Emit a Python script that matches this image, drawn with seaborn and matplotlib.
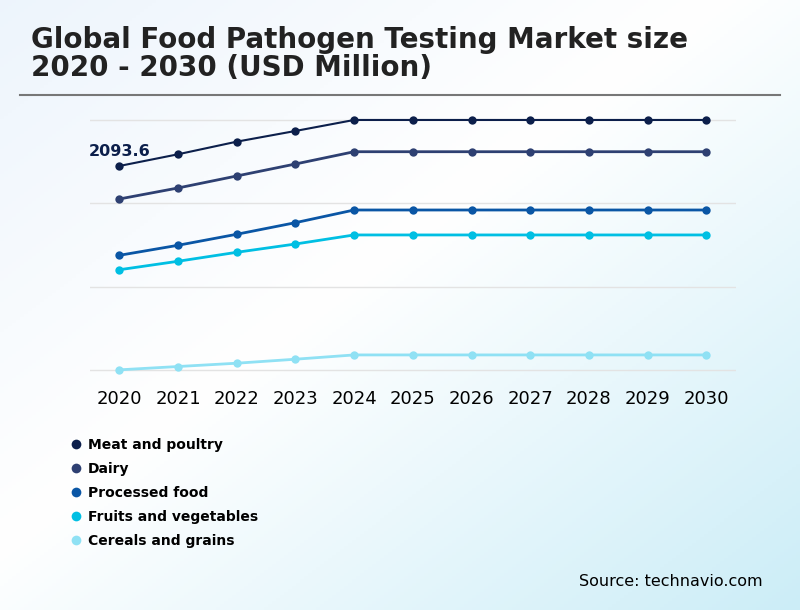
import numpy as np
import pandas as pd
import seaborn as sns
import matplotlib.pyplot as plt
from matplotlib.lines import Line2D

# datos (USD Million)
years = [2020, 2021, 2022, 2023, 2024, 2025, 2026, 2027, 2028, 2029, 2030]
segments = ['Meat and poultry', 'Dairy', 'Processed food', 'Fruits and vegetables', 'Cereals and grains']
meat = [2093.6, 2213.8, 2343.1, 2452.9, 2565.8, 2565.8, 2565.8, 2565.8, 2565.8, 2565.8, 2565.8]
dairy = [1755.0, 1868.0, 1991.0, 2114.0, 2240.0, 2240.0, 2240.0, 2240.0, 2240.0, 2240.0, 2240.0]
processed = [1177.0, 1280.0, 1393.0, 1512.0, 1642.0, 1642.0, 1642.0, 1642.0, 1642.0, 1642.0, 1642.0]
fruits = [1029.0, 1116.0, 1208.0, 1293.0, 1386.0, 1386.0, 1386.0, 1386.0, 1386.0, 1386.0, 1386.0]
cereals = [2.0, 36.0, 70.0, 111.0, 155.0, 155.0, 155.0, 155.0, 155.0, 155.0, 155.0]
grid_vals = [0, 855.3, 1710.5, 2565.8]

colors = ['#0c1f4b', '#2e4072', '#0a56a5', '#00bfe3', '#8fe1f4']

df = pd.DataFrame({
    'year': [str(y) for y in years] * 5,
    'segment': np.repeat(segments, len(years)),
    'value': meat + dairy + processed + fruits + cereals,
})

fig = plt.figure(figsize=(8, 6.1), dpi=100)

# fondo degradado
bg = fig.add_axes([0, 0, 1, 1], zorder=-10)
xx, yy = np.meshgrid(np.linspace(0, 1, 200), np.linspace(0, 1, 200))
t = np.clip((xx + yy) / 2, 0, 1)
c0 = np.array([0.93, 0.96, 0.99])
c1 = np.array([1.0, 1.0, 1.0])
c2 = np.array([0.80, 0.93, 0.97])
img = np.where(t[..., None] < 0.45,
               c0 + (c1 - c0) * (t[..., None] / 0.45),
               c1 + (c2 - c1) * ((t[..., None] - 0.45) / 0.55))
bg.imshow(img, extent=[0, 1, 0, 1], aspect='auto', origin='upper')
bg.axis('off')

ax = fig.add_axes([0.1125, 0.3854, 0.8071, 0.4266])
ax.set_facecolor('none')
sns.lineplot(data=df, x='year', y='value', hue='segment', palette=colors,
             marker='o', markersize=6, markeredgewidth=0, linewidth=2,
             ax=ax, legend=False, sort=False)
for ln in ax.lines[:1]:
    ln.set_linewidth(1.5)
for ln in ax.lines:
    ln.set_clip_on(False)

ax.set_xlim(-0.5, 10.5)
ax.set_ylim(-50, 2620)
ax.set_yticks(grid_vals)
ax.set_yticklabels([])
ax.grid(axis='y', color='#e3e3e3', linewidth=1)
ax.grid(axis='x', visible=False)
ax.set_axisbelow(True)
for s in ax.spines.values():
    s.set_visible(False)
ax.tick_params(axis='both', length=0)
ax.tick_params(axis='x', labelsize=13, pad=11, labelcolor='black')
ax.set_xlabel('')
ax.set_ylabel('')

ax.annotate(f'{meat[0]}', xy=(0, meat[0]), xytext=(0, 5), textcoords='offset points',
            ha='center', va='bottom', fontsize=11.5, fontweight='bold', color=colors[0])

# titulo
fig.text(0.039, 0.865, 'Global Food Pathogen Testing Market size\n2020 - 2030 (USD Million)',
         fontsize=20, fontweight='bold', color='#222222', ha='left', va='bottom', linespacing=1.0)
fig.add_artist(Line2D([0.025, 0.975], [0.844, 0.844], color='#777777', linewidth=1.5))

# leyenda
handles = [Line2D([], [], linestyle='none', marker='o', markersize=7, markeredgewidth=0, color=c)
           for c in colors]
fig.legend(handles, segments, loc='upper left', bbox_to_anchor=(0.083, 0.291), frameon=False,
           prop={'weight': 'bold', 'size': 10}, handlelength=0.6, handletextpad=0.55,
           labelspacing=0.72, borderaxespad=0)

fig.text(0.953, 0.035, 'Source: technavio.com', fontsize=11.5, color='black', ha='right', va='bottom')

plt.savefig('out.png', dpi=100)
